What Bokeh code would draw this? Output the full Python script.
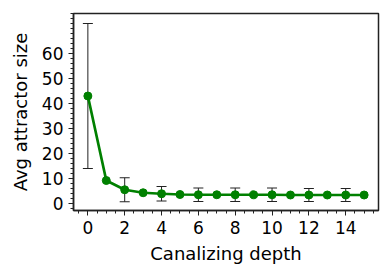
from bokeh.plotting import figure
from bokeh.models import ColumnDataSource, Whisker, FixedTicker, Range1d, TeeHead
from bokeh.embed import file_html
from bokeh.resources import INLINE

depth = list(range(16))
avg_size = [43.0, 9.2, 5.5, 4.3, 3.9, 3.6, 3.5, 3.5, 3.5, 3.5, 3.5, 3.4, 3.4, 3.4, 3.4, 3.4]
err_depth = [0, 2, 4, 6, 8, 10, 12, 14]
err_mean = [43.0, 5.5, 3.9, 3.5, 3.5, 3.5, 3.4, 3.4]
err_size = [29.0, 4.8, 2.9, 2.7, 2.7, 2.7, 2.6, 2.6]
x_ticks = [0, 2, 4, 6, 8, 10, 12, 14]
y_ticks = [0, 10, 20, 30, 40, 50, 60]

FONT = "DejaVu Sans"

p = figure(width=391, height=279, output_backend="svg", toolbar_location=None,
           x_range=Range1d(-0.78, 15.78), y_range=Range1d(-2.8, 76))
p.min_border_left = 73
p.min_border_right = 13
p.min_border_top = 13
p.min_border_bottom = 69
p.background_fill_color = "white"
p.border_fill_color = "white"
p.grid.visible = False
p.outline_line_color = "#222222"
p.outline_line_width = 1.5

lower = [m - e for m, e in zip(err_mean, err_size)]
upper = [m + e for m, e in zip(err_mean, err_size)]
esrc = ColumnDataSource(dict(x=err_depth, lower=lower, upper=upper))
w = Whisker(source=esrc, base="x", lower="lower", upper="upper",
            line_color="#222222", line_width=1,
            upper_head=TeeHead(size=10, line_color="#222222", line_width=1),
            lower_head=TeeHead(size=10, line_color="#222222", line_width=1))
p.add_layout(w)

src = ColumnDataSource(dict(x=depth, y=avg_size))
p.line("x", "y", source=src, line_color="#008000", line_width=2.7)
p.scatter("x", "y", source=src, size=8, fill_color="#008000", line_color="#008000")

p.xaxis.ticker = FixedTicker(ticks=x_ticks, minor_ticks=[i * 0.5 for i in range(-1, 32)])
p.yaxis.ticker = FixedTicker(ticks=y_ticks, minor_ticks=list(range(-2, 78, 2)))

for ax in (p.xaxis, p.yaxis):
    ax.axis_line_color = "#222222"
    ax.axis_line_width = 1.5
    ax.major_tick_line_color = "#222222"
    ax.minor_tick_line_color = "#222222"
    ax.major_tick_out = 5
    ax.major_tick_in = 0
    ax.minor_tick_out = 3
    ax.minor_tick_in = 0
    ax.major_label_text_font = FONT
    ax.major_label_text_font_size = "17px"
    ax.major_label_text_color = "black"
    ax.axis_label_text_font = FONT
    ax.axis_label_text_font_size = "18px"
    ax.axis_label_text_font_style = "normal"
    ax.axis_label_text_color = "black"

p.xaxis.axis_label = "Canalizing depth"
p.yaxis.axis_label = "Avg attractor size"
p.xaxis.major_label_standoff = 5
p.yaxis.major_label_standoff = 5
p.xaxis.axis_label_standoff = 6
p.yaxis.axis_label_standoff = 8

open("out.html", "w").write(file_html(p, INLINE))
